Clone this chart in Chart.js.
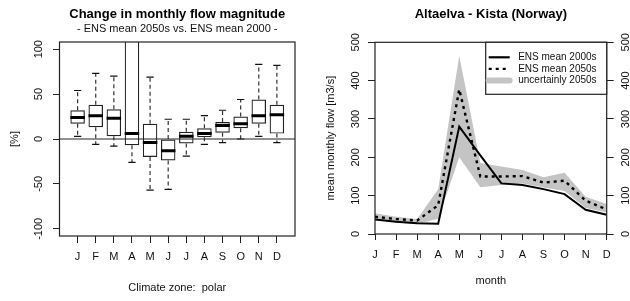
<!DOCTYPE html>
<html><head><meta charset="utf-8">
<script src="https://cdn.jsdelivr.net/npm/chart.js@4/dist/chart.umd.min.js"></script>
<style>
html,body{margin:0;padding:0;background:#fff;}
#wrap{position:relative;width:630px;height:301px;overflow:hidden;background:#fff;}
#c1{position:absolute;left:0;top:0;}
#c2{position:absolute;left:315px;top:0;}
</style></head><body>
<div id="wrap"><canvas id="c1" width="315" height="301"></canvas><canvas id="c2" width="315" height="301"></canvas></div>
<script>
// ---------- data ----------
const months = ['J','F','M','A','M','J','J','A','S','O','N','D'];
// Left: change in monthly flow magnitude [%] (boxplot stats per month)
const boxLow  = [3, -6, -8, -26, -57, -56, -19, -6, -4, 0, 3, -4];
const boxQ1   = [17, 13, 3, -7, -20, -24, -5, 2, 7, 12, 17, 6];
const boxMed  = [24, 26, 23, 6, -4, -13, 3, 6, 15, 17, 26, 27];
const boxQ3   = [32, 38, 33, 160, 17, 0, 8, 12, 19, 25, 44, 38];
const boxHigh = [54, 73, 70, 260, 69, 22, 22, 26, 32, 44, 83, 82];
const leftYTicks = [-100, -50, 0, 50, 100];
// Right: Altaelva - Kista mean monthly flow [m3/s]
const flow2000s    = [38, 32, 28, 27, 280, 205, 132, 128, 117, 104, 63, 50];
const flow2050s    = [45, 39, 35, 75, 377, 150, 150, 151, 134, 139, 87, 64];
const unc2050Upper = [54, 45, 39, 117, 465, 185, 176, 167, 148, 160, 97, 78];
const unc2050Lower = [37, 30, 26, 40, 200, 122, 128, 132, 121, 112, 68, 56];
const rightYTicks = [0, 100, 200, 300, 400, 500];
const seriesNames = ['ENS mean 2000s', 'ENS mean 2050s', 'uncertainly 2050s'];

const FF = "'Liberation Sans', Arial, Helvetica, sans-serif";
const INK = '#111';

// ---------- plugins ----------
const frame = {
  id: 'frame',
  afterDraw(chart) {
    const {ctx, chartArea: a} = chart;
    ctx.save(); ctx.strokeStyle = '#222'; ctx.lineWidth = 1.2;
    ctx.strokeRect(a.left, a.top, a.right - a.left, a.bottom - a.top);
    ctx.restore();
  }
};
const rotTicks = {
  id: 'rotTicks',
  afterDraw(chart, args, opts) {
    const ctx = chart.ctx, a = chart.chartArea;
    (opts.items || []).forEach(it => {
      const sc = chart.scales[it.scale];
      ctx.save();
      ctx.font = '11px ' + FF; ctx.fillStyle = INK;
      ctx.textAlign = 'center'; ctx.textBaseline = 'middle';
      sc.ticks.forEach(t => {
        const y = sc.getPixelForValue(t.value);
        const x = it.side === 'left' ? a.left - it.offset : a.right + it.offset;
        ctx.save(); ctx.translate(x, y); ctx.rotate(-Math.PI / 2);
        ctx.fillText(String(t.value), 0, 0); ctx.restore();
      });
      ctx.restore();
    });
  }
};
const boxLegend = {
  id: 'boxLegend',
  afterDraw(chart, args, opts) {
    if (!opts.show) return;
    const ctx = chart.ctx, a = chart.chartArea;
    const w = 121, h = 52, x0 = a.right - w, y0 = a.top;
    ctx.save();
    ctx.fillStyle = '#fff'; ctx.fillRect(x0, y0, w, h);
    ctx.strokeStyle = '#222'; ctx.lineWidth = 1.2; ctx.strokeRect(x0, y0, w, h);
    const styles = [
      {c: '#000', w: 2.2, d: []},
      {c: '#000', w: 2.2, d: [3, 4]},
      {c: '#c4c4c4', w: 6, d: []}
    ];
    ctx.font = '10px ' + FF; ctx.textBaseline = 'middle'; ctx.textAlign = 'left';
    seriesNames.forEach((n, i) => {
      const y = y0 + 15 + i * 11.6;
      const s = styles[i];
      ctx.beginPath(); ctx.setLineDash(s.d); ctx.strokeStyle = s.c; ctx.lineWidth = s.w;
      ctx.lineCap = i === 2 ? 'round' : 'butt';
      ctx.moveTo(x0 + 3, y); ctx.lineTo(x0 + 24, y); ctx.stroke();
      ctx.setLineDash([]);
      ctx.fillStyle = INK; ctx.fillText(n, x0 + 32.5, y);
    });
    ctx.restore();
  }
};

// ---------- left chart: boxplots ----------
const boxes = [], whisk = [], caps = [], meds = [];
months.forEach((m, i) => {
  const x = i + 1;
  boxes.push({x: x, y: [boxQ1[i], boxQ3[i]]});
  whisk.push({x: x, y: boxQ3[i]}, {x: x, y: boxHigh[i]}, {x: x, y: null},
             {x: x, y: boxQ1[i]}, {x: x, y: boxLow[i]}, {x: x, y: null});
  caps.push({x: x - 0.2, y: boxHigh[i]}, {x: x + 0.2, y: boxHigh[i]}, {x: x, y: null},
            {x: x - 0.2, y: boxLow[i]}, {x: x + 0.2, y: boxLow[i]}, {x: x, y: null});
  meds.push({x: x - 0.4, y: boxMed[i]}, {x: x + 0.4, y: boxMed[i]}, {x: x, y: null});
});

new Chart(document.getElementById('c1'), {
  type: 'line',
  data: {
    datasets: [
      {type: 'line', data: [{x: 0, y: 0}, {x: 13, y: 0}], borderColor: '#222', borderWidth: 1, pointRadius: 0, order: 0},
      {type: 'line', data: meds, borderColor: '#000', borderWidth: 3, pointRadius: 0, spanGaps: false, order: 1},
      {type: 'line', data: caps, borderColor: '#111', borderWidth: 1.2, pointRadius: 0, spanGaps: false, order: 2},
      {type: 'line', data: whisk, borderColor: '#333', borderWidth: 1.2, borderDash: [4, 3], pointRadius: 0, spanGaps: false, order: 3},
      {type: 'bar', data: boxes, backgroundColor: 'rgba(255,255,255,0)', borderColor: '#222', borderWidth: 1.2,
       borderSkipped: false, barPercentage: 0.8, categoryPercentage: 1, clip: 0, order: 4}
    ]
  },
  options: {
    responsive: false, animation: false, devicePixelRatio: 1,
    layout: {padding: {left: 0, right: 20, top: 0, bottom: 0}},
    plugins: {
      legend: {display: false}, tooltip: {enabled: false},
      title: {display: true, text: 'Change in monthly flow magnitude', fullSize: false,
              font: {family: FF, size: 13, weight: 'bold'}, color: '#000', padding: {top: 7, bottom: 0}},
      subtitle: {display: true, text: '- ENS mean 2050s vs. ENS mean 2000 -', fullSize: false,
              font: {family: FF, size: 11}, color: INK, padding: {top: 0, bottom: 6.2}},
      rotTicks: {items: [{scale: 'y', side: 'left', offset: 20.5}]}
    },
    scales: {
      x: {type: 'linear', min: 0, max: 13, offset: false,
          afterBuildTicks: s => { s.ticks = months.map((m, i) => ({value: i + 1})); },
          ticks: {autoSkip: false, maxRotation: 0, minRotation: 0, padding: 7.4, color: INK,
                  font: {family: FF, size: 11}, callback: v => months[Math.round(v) - 1]},
          grid: {offset: false, drawOnChartArea: false, drawTicks: true, tickLength: 7, color: '#222', lineWidth: 1},
          border: {display: false},
          title: {display: true, text: 'Climate zone:  polar', color: INK, font: {family: FF, size: 11}, padding: {top: 0, bottom: 6.4}},
          afterFit: s => { s.height = 65; }},
      y: {type: 'linear', min: -108, max: 108,
          afterBuildTicks: s => { s.ticks = leftYTicks.map(v => ({value: v})); },
          ticks: {display: false},
          grid: {drawOnChartArea: false, drawTicks: true, tickLength: 6.5, color: '#222', lineWidth: 1},
          border: {display: false},
          title: {display: true, text: '[%]', color: INK, font: {family: FF, size: 11}, padding: {top: 8.4, bottom: 0}},
          afterFit: s => { s.width = 59.5; }}
    }
  },
  plugins: [frame, rotTicks]
});

// ---------- right chart: hydrograph ----------
const pts = arr => arr.map((v, i) => ({x: i + 1, y: v}));
new Chart(document.getElementById('c2'), {
  type: 'line',
  data: {
    datasets: [
      {label: seriesNames[1], data: pts(flow2050s), borderColor: '#000', borderWidth: 2.4, borderDash: [3, 4], pointRadius: 0, fill: false, order: 0},
      {label: seriesNames[0], data: pts(flow2000s), borderColor: '#000', borderWidth: 2, pointRadius: 0, fill: false, order: 1},
      {label: seriesNames[2], data: pts(unc2050Upper), borderWidth: 0, borderColor: 'rgba(0,0,0,0)', pointRadius: 0,
       backgroundColor: '#c4c4c4', fill: '+1', order: 2},
      {label: 'lower', data: pts(unc2050Lower), borderWidth: 0, borderColor: 'rgba(0,0,0,0)', pointRadius: 0, fill: false, order: 3}
    ]
  },
  options: {
    responsive: false, animation: false, devicePixelRatio: 1,
    layout: {padding: {left: 0, right: 0, top: 0, bottom: 0}},
    plugins: {
      legend: {display: false}, tooltip: {enabled: false},
      title: {display: true, text: 'Altaelva - Kista (Norway)', fullSize: false,
              font: {family: FF, size: 13, weight: 'bold'}, color: '#000', padding: {top: 7, bottom: 19.7}},
      rotTicks: {items: [{scale: 'y', side: 'left', offset: 19.5}, {scale: 'y2', side: 'right', offset: 19.3}]},
      boxLegend: {show: true}
    },
    scales: {
      x: {type: 'linear', min: 1, max: 12, offset: false,
          afterBuildTicks: s => { s.ticks = months.map((m, i) => ({value: i + 1})); },
          ticks: {autoSkip: false, maxRotation: 0, minRotation: 0, padding: 8.4, color: INK,
                  font: {family: FF, size: 11}, callback: v => months[Math.round(v) - 1]},
          grid: {drawOnChartArea: false, drawTicks: true, tickLength: 6, color: '#222', lineWidth: 1},
          border: {display: false},
          title: {display: true, text: 'month', color: INK, font: {family: FF, size: 11}, padding: {top: 0, bottom: 13.7}},
          afterFit: s => { s.height = 67; }},
      y: {type: 'linear', position: 'left', min: 0, max: 500,
          afterBuildTicks: s => { s.ticks = rightYTicks.map(v => ({value: v})); },
          ticks: {display: false},
          grid: {drawOnChartArea: false, drawTicks: true, tickLength: 7, color: '#222', lineWidth: 1},
          border: {display: false},
          title: {display: true, text: 'mean monthly flow [m3/s]', color: INK, font: {family: FF, size: 11}, padding: {top: 8.9, bottom: 0}},
          afterFit: s => { s.width = 60; }},
      y2: {type: 'linear', position: 'right', min: 0, max: 500,
          afterBuildTicks: s => { s.ticks = rightYTicks.map(v => ({value: v})); },
          ticks: {display: false},
          grid: {drawOnChartArea: false, drawTicks: true, tickLength: 7, color: '#222', lineWidth: 1},
          border: {display: false},
          afterFit: s => { s.width = 23.3; }}
    }
  },
  plugins: [frame, rotTicks, boxLegend]
});
</script>
</body></html>
